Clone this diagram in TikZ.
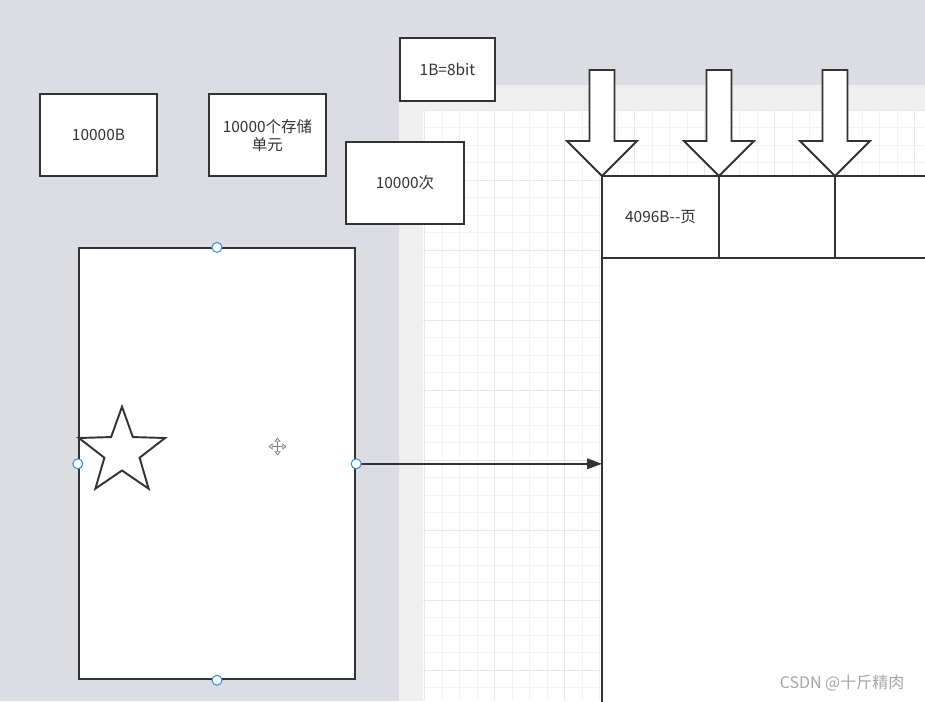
\documentclass[tikz,border=0pt]{standalone}
\usepackage{fontspec}
\setmainfont{Noto Sans CJK SC}
\usetikzlibrary{positioning, arrows.meta}

\definecolor{canvasgray}{HTML}{DCDDE2}
\definecolor{pagegray}{HTML}{EFEFEF}
\definecolor{gridminor}{HTML}{F2F2F2}
\definecolor{gridmajor}{HTML}{E7E7E7}
\definecolor{inkdark}{HTML}{333333}
\definecolor{handleblue}{HTML}{3B8EE8}
\definecolor{marktext}{HTML}{A6A6A6}

\begin{document}
\begin{tikzpicture}[
        x=0.02cm, y=-0.02cm,
        box/.style={rectangle, draw=inkdark, line width=1.1pt, fill=white, text=inkdark, align=center, font=\fontsize{8.8}{10.4}\selectfont, minimum width=2.34cm, minimum height=1.64cm},
        cell/.style={box, outer sep=0pt, line width=1.3pt},
        blockarrow/.style={draw=inkdark, fill=white, line width=1.1pt, line join=miter},
        arrow/.style={-{Triangle[length=8.5pt, width=6pt]}, draw=inkdark, line width=1.1pt},
        handle/.style={circle, draw=handleblue, fill=white, line width=0.6pt, minimum size=0.2cm, inner sep=0pt},
        moveicon/.style={-{Triangle[open, length=2.4pt, width=3.6pt]}, draw=gray, line width=0.45pt}
    ]

    \useasboundingbox (0,0) rectangle (925,701);
    \clip (0,0) rectangle (925,701);

    % canvas, page and grid
    \fill[canvasgray] (0,0) rectangle (925,701);
    \fill[pagegray] (399,85) rectangle (925,701);
    \fill[white] (423,110) rectangle (925,701);
    \foreach \gx in {424.5,442,...,925} \draw[gridminor, line width=0.5pt] (\gx,110) -- (\gx,701);
    \foreach \gy in {110,127.5,...,701} \draw[gridminor, line width=0.5pt] (423,\gy) -- (925,\gy);
    \foreach \gx in {424.5,494.5,...,925} \draw[gridmajor, line width=0.5pt] (\gx,110) -- (\gx,701);
    \foreach \gy in {110,180,...,701} \draw[gridmajor, line width=0.5pt] (423,\gy) -- (925,\gy);

    \node[box] (bytes) at (98.5,135.3) {10000B};
    \node[box, right=1.0cm of bytes] (units) {10000个存储\\单元};
    \node[box, minimum width=2.36cm] (times) at (405,183) {10000次};
    \node[box, minimum width=1.9cm, minimum height=1.26cm] (bit) at (447.5,69.2) {1B=8bit};

    \node[rectangle, draw=inkdark, fill=white, line width=0.9pt, outer sep=0pt, anchor=north west, minimum width=8cm, minimum height=10cm] (disk) at (602,258) {};
    \node[cell, anchor=south west] (pageA) at (disk.north west) {4096B{-}{-}页};
    \node[cell, right=0pt of pageA, minimum width=2.32cm] (pageB) {};
    \node[cell, right=0pt of pageB, minimum width=2.4cm] (pageC) {};

    \foreach \cellname in {pageA,pageB,pageC}
        \draw[blockarrow] (\cellname.north west) -- ++(-35,-35) -- ++(22.5,0) -- ++(0,-71) -- ++(25,0) -- ++(0,71) -- ++(22.5,0) -- cycle;

    \node[box, minimum width=5.53cm, minimum height=8.62cm] (mem) at (217,463.8) {};

    \begin{scope}[shift={(122,452)}]
        \draw[blockarrow] (-90:45.3) -- (-54:18.5) -- (-18:45.3) -- (18:18.5) -- (54:45.3) -- (90:18.5) -- (126:45.3) -- (162:18.5) -- (198:45.3) -- (234:18.5) -- cycle;
    \end{scope}

    \coordinate (grip) at (277.5,446.5);
    \foreach \dir in {0,90,180,270} \draw[moveicon] (grip) -- ++(\dir:9);

    \draw[arrow] (mem.east) -- (mem.east -| disk.west);

    \foreach \side in {north,south,east,west}
        \node[handle] (h-\side) at (mem.\side) {};

    \node[text=marktext, font=\fontsize{9.1}{11}\selectfont] (mark) at (842,683) {CSDN @十斤精肉};

\end{tikzpicture}
\end{document}
